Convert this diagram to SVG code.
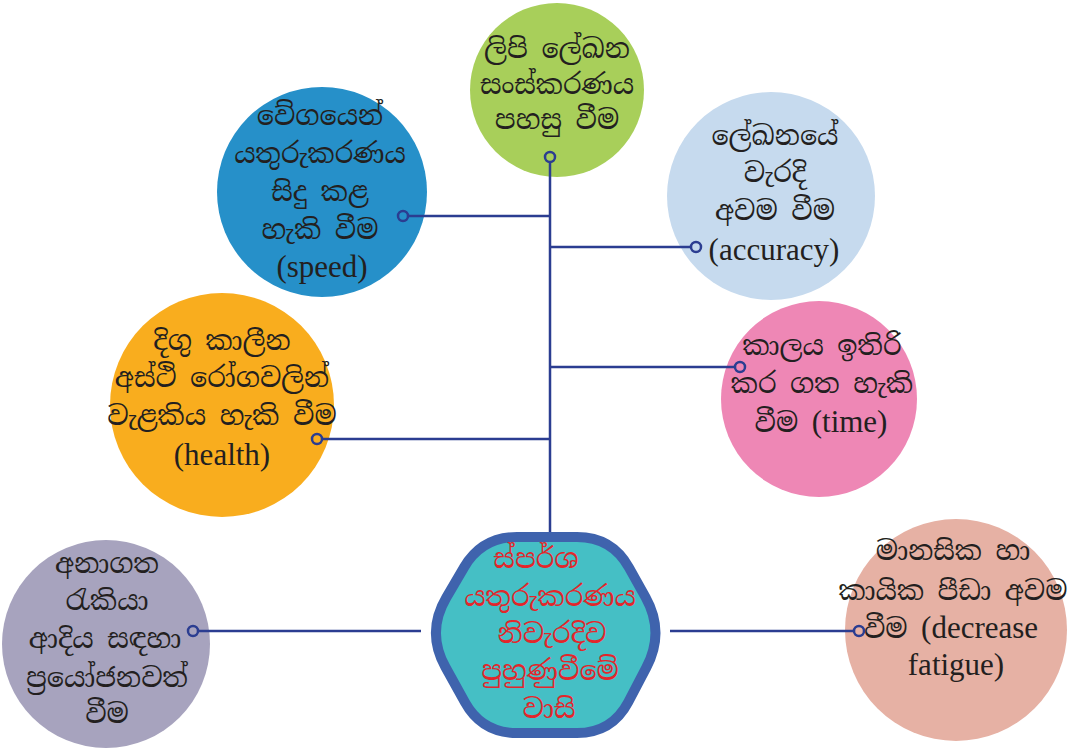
<svg xmlns="http://www.w3.org/2000/svg" width="1069" height="748" viewBox="0 0 1069 748">
<style>
.si{font-family:"Noto Serif Sinhala","Noto Sans Sinhala","Iskoola Pota","Noto Sans",sans-serif;font-size:27px;fill:#231f20;text-anchor:middle}
.en{font-family:"Liberation Serif","Times New Roman",serif;font-size:31px}
.red{fill:#e3262b}
.conn line{stroke:#2b3d91;stroke-width:2.5}
.conn circle{fill:none;stroke:#2b3d91;stroke-width:2.5}
</style>
<rect width="1069" height="748" fill="#ffffff"/>
<g id="node-green">
<circle cx="557" cy="90" r="87" fill="#a8cf5a"/>
<text class="si" x="557" y="58">ලිපි ලේඛන</text>
<text class="si" x="557" y="94">සංස්කරණය</text>
<text class="si" x="557" y="129">පහසු වීම</text>
</g>
<g id="node-speed">
<circle cx="322" cy="192" r="105" fill="#2690c9"/>
<text class="si" x="320" y="125">වේගයෙන්</text>
<text class="si" x="320" y="163">යතුරුකරණය</text>
<text class="si" x="320" y="201">සිදු කළ</text>
<text class="si" x="320" y="239">හැකි වීම</text>
<text class="si en" x="322" y="277">(speed)</text>
</g>
<g id="node-accuracy">
<circle cx="771" cy="196" r="104" fill="#c6daee"/>
<text class="si" x="775" y="145">ලේඛනයේ</text>
<text class="si" x="775" y="182">වැරදි</text>
<text class="si" x="775" y="220">අවම වීම</text>
<text class="si en" x="774" y="260">(accuracy)</text>
</g>
<g id="node-health">
<circle cx="222" cy="405" r="112" fill="#f9ad1e"/>
<text class="si" x="222" y="350">දිගු කාලීන</text>
<text class="si" x="222" y="387">අස්ථි රෝගවලින්</text>
<text class="si" x="222" y="425">වැළකිය හැකි වීම</text>
<text class="si en" x="222" y="465">(health)</text>
</g>
<g id="node-time">
<circle cx="819" cy="399" r="98" fill="#ee87b5"/>
<text class="si" x="822" y="355">කාලය ඉතිරි</text>
<text class="si" x="822" y="393">කර ගත හැකි</text>
<text class="si" x="821" y="432">වීම <tspan class="en">(time)</tspan></text>
</g>
<g id="node-future">
<circle cx="106" cy="644" r="104" fill="#a7a3be"/>
<text class="si" x="107" y="573">අනාගත</text>
<text class="si" x="107" y="610">රැකියා</text>
<text class="si" x="105" y="648">ආදිය සඳහා</text>
<text class="si" x="107" y="687">ප්‍රයෝජනවත්</text>
<text class="si" x="107" y="723">වීම</text>
</g>
<g id="node-fatigue">
<circle cx="956" cy="630" r="111" fill="#e6b1a4"/>
<text class="si" x="953" y="560">මානසික හා</text>
<text class="si" x="953" y="600">කායික පීඩා අවම</text>
<text class="si" x="951" y="638">වීම <tspan class="en">(decrease</tspan></text>
<text class="si en" x="956" y="675">fatigue)</text>
</g>
<g id="node-center">
<path d="M517,537 L577,537 Q612,537 629,567.6 L645.5,597.1 Q665,632 646.4,667.4 L628.3,702 Q612,733 577,733 L517,733 Q482,733 465,702.4 L445.4,667 Q426,632 446.3,597.6 L464.2,567.1 Q482,537 517,537 Z" fill="#45bfc5" stroke="#3f63ad" stroke-width="10" stroke-linejoin="round"/>
<text class="si red" x="536" y="568">ස්පර්ශ</text>
<text class="si red" x="550" y="606">යතුරුකරණය</text>
<text class="si red" x="552" y="643">නිවැරදිව</text>
<text class="si red" x="550" y="680">පුහුණුවීමේ</text>
<text class="si red" x="549" y="718">වාසි</text>
</g>
<g id="connectors" class="conn">
<line x1="550" y1="162" x2="550" y2="532"/>
<line x1="408" y1="216" x2="550" y2="216"/>
<line x1="550" y1="247" x2="691" y2="247"/>
<line x1="550" y1="367" x2="735" y2="367"/>
<line x1="322" y1="439" x2="550" y2="439"/>
<line x1="198" y1="631" x2="421" y2="631"/>
<line x1="670" y1="631" x2="854" y2="631"/>
<circle cx="550" cy="157" r="5"/>
<circle cx="403" cy="216" r="5"/>
<circle cx="696" cy="247" r="5"/>
<circle cx="740" cy="367" r="5"/>
<circle cx="317" cy="439" r="5"/>
<circle cx="193" cy="631" r="5"/>
<circle cx="859" cy="631" r="5"/>
</g>
</svg>
